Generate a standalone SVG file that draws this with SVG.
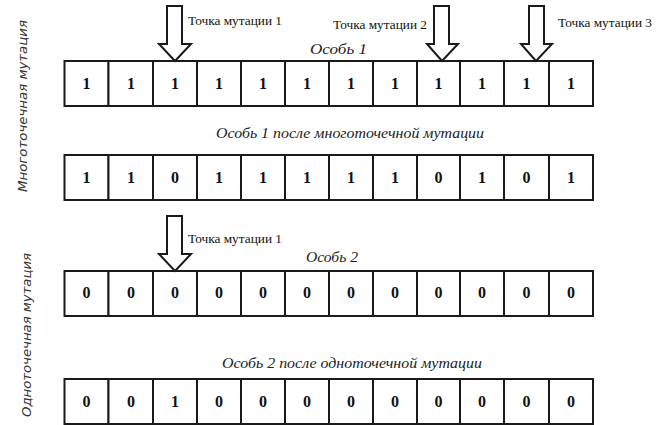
<svg xmlns="http://www.w3.org/2000/svg" width="666" height="425" viewBox="0 0 666 425">
<style>
.cell{fill:#fff;stroke:#1a1a1a;stroke-width:2}
.d{font-family:"Liberation Serif",serif;font-weight:bold;font-size:16px;text-anchor:middle;fill:#111}
.lbl{font-family:"Liberation Serif",serif;font-size:13px;fill:#111}
.it{font-family:"Liberation Serif",serif;font-style:italic;font-size:15px;fill:#222}
.side{font-family:"DejaVu Sans",sans-serif;font-style:italic;font-size:13px;fill:#333;text-anchor:middle}
.arr{fill:#fff;stroke:#1a1a1a;stroke-width:2;stroke-linejoin:miter}
</style>
<defs>
<g id="row">
<rect class="cell" x="64.5" y="0" width="44" height="45"/>
<rect class="cell" x="108.5" y="0" width="44.5" height="45"/>
<rect class="cell" x="153" y="0" width="44" height="45"/>
<rect class="cell" x="197" y="0" width="44" height="45"/>
<rect class="cell" x="241" y="0" width="44" height="45"/>
<rect class="cell" x="285" y="0" width="44" height="45"/>
<rect class="cell" x="329" y="0" width="44" height="45"/>
<rect class="cell" x="373" y="0" width="44" height="45"/>
<rect class="cell" x="417" y="0" width="43" height="45"/>
<rect class="cell" x="460" y="0" width="44" height="45"/>
<rect class="cell" x="504" y="0" width="45" height="45"/>
<rect class="cell" x="549" y="0" width="44" height="45"/>
</g>
</defs>

<g id="side-labels">
<text class="side" transform="translate(27,106) rotate(-90)" textLength="172" lengthAdjust="spacingAndGlyphs">Многоточечная мутация</text>
<text class="side" transform="translate(31,335) rotate(-90)" textLength="164" lengthAdjust="spacingAndGlyphs">Одноточечная мутация</text>
</g>

<g id="individual1">
<use href="#row" y="61"/>
<g class="d">
<text x="86.5" y="89">1</text><text x="131" y="89">1</text><text x="175" y="89">1</text><text x="219" y="89">1</text><text x="263" y="89">1</text><text x="307" y="89">1</text><text x="351" y="89">1</text><text x="395" y="89">1</text><text x="438.5" y="89">1</text><text x="482" y="89">1</text><text x="526.5" y="89">1</text><text x="571" y="89">1</text>
</g>
<text class="it" x="310" y="54" textLength="57" lengthAdjust="spacingAndGlyphs">Особь 1</text>
</g>

<g id="individual1-mutated">
<use href="#row" y="155"/>
<g class="d">
<text x="86.5" y="183">1</text><text x="131" y="183">1</text><text x="175" y="183">0</text><text x="219" y="183">1</text><text x="263" y="183">1</text><text x="307" y="183">1</text><text x="351" y="183">1</text><text x="395" y="183">1</text><text x="438.5" y="183">0</text><text x="482" y="183">1</text><text x="526.5" y="183">0</text><text x="571" y="183">1</text>
</g>
<text class="it" x="216" y="138" textLength="268" lengthAdjust="spacingAndGlyphs">Особь 1 после многоточечной мутации</text>
</g>

<g id="individual2">
<use href="#row" y="271"/>
<g class="d">
<text x="86.5" y="298">0</text><text x="131" y="298">0</text><text x="175" y="298">0</text><text x="219" y="298">0</text><text x="263" y="298">0</text><text x="307" y="298">0</text><text x="351" y="298">0</text><text x="395" y="298">0</text><text x="438.5" y="298">0</text><text x="482" y="298">0</text><text x="526.5" y="298">0</text><text x="571" y="298">0</text>
</g>
<text class="it" x="306" y="262" textLength="52" lengthAdjust="spacingAndGlyphs">Особь 2</text>
</g>

<g id="individual2-mutated">
<use href="#row" y="379"/>
<g class="d">
<text x="86.5" y="407">0</text><text x="131" y="407">0</text><text x="175" y="407">1</text><text x="219" y="407">0</text><text x="263" y="407">0</text><text x="307" y="407">0</text><text x="351" y="407">0</text><text x="395" y="407">0</text><text x="438.5" y="407">0</text><text x="482" y="407">0</text><text x="526.5" y="407">0</text><text x="571" y="407">0</text>
</g>
<text class="it" x="222" y="368" textLength="260" lengthAdjust="spacingAndGlyphs">Особь 2 после одноточечной мутации</text>
</g>

<g id="connectors">
<polygon class="arr" points="167,6 182,6 182,44 191,44 175,61 159,44 167,44"/>
<polygon class="arr" points="434,6 449,6 449,44 458,44 442,61 427,44 434,44"/>
<polygon class="arr" points="529,6 544,6 544,44 552,44 536,61 521,44 529,44"/>
<polygon class="arr" points="167,216 182,216 182,254 191,254 175,271 159,254 167,254"/>
</g>

<g id="mutation-point-labels">
<text class="lbl" x="188" y="25" textLength="94" lengthAdjust="spacingAndGlyphs">Точка мутации 1</text>
<text class="lbl" x="333" y="29" textLength="94" lengthAdjust="spacingAndGlyphs">Точка мутации 2</text>
<text class="lbl" x="558" y="27" textLength="94" lengthAdjust="spacingAndGlyphs">Точка мутации 3</text>
<text class="lbl" x="188" y="243" textLength="94" lengthAdjust="spacingAndGlyphs">Точка мутации 1</text>
</g>
</svg>
